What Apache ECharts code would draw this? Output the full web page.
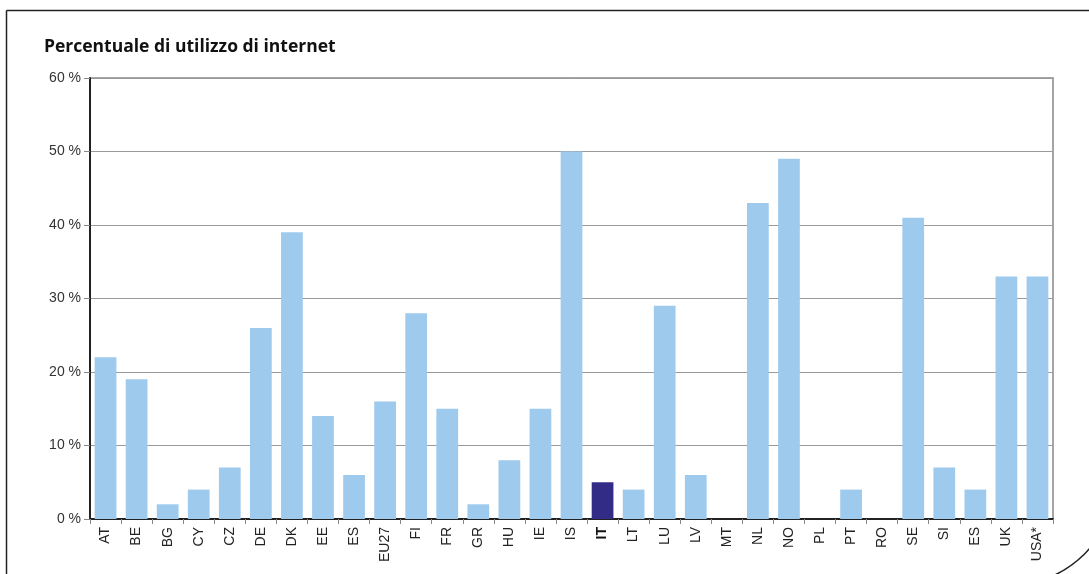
<!DOCTYPE html>
<html>
<head>
<meta charset="utf-8">
<style>
  html, body { margin: 0; padding: 0; background: #fff; }
  #chart { width: 1089px; height: 574px; }
</style>
<script src="https://cdn.jsdelivr.net/npm/echarts@6/dist/echarts.min.js"></script>
</head>
<body>
<div id="chart"></div>
<script>
// Country codes along the x axis
const countries = ['AT','BE','BG','CY','CZ','DE','DK','EE','ES','EU27','FI','FR','GR','HU','IE','IS','IT','LT','LU','LV','MT','NL','NO','PL','PT','RO','SE','SI','ES','UK','USA*'];
// Internet usage share, percent
const usage = [22,19,2,4,7,26,39,14,6,16,28,15,2,8,15,50,5,4,29,6,0,43,49,0,4,0,41,7,4,33,33];
// Highlighted country
const highlight = 'IT';
// Y axis ticks
const yTicks = [0,10,20,30,40,50,60];

const lightBlue = '#9ecaee';
const darkBlue = '#332c86';

const chart = echarts.init(document.getElementById('chart'), null, { renderer: 'canvas' });

const seriesData = usage.map((v, i) => ({
  value: v,
  itemStyle: { color: countries[i] === highlight ? darkBlue : lightBlue }
}));

chart.setOption({
  animation: false,
  backgroundColor: '#fff',
  title: {
    text: 'Percentuale di utilizzo di internet',
    left: 39,
    top: 33,
    textStyle: { fontFamily: 'Open Sans', fontWeight: 'bold', fontSize: 17.5, color: '#111' }
  },
  graphic: [{
    type: 'rect',
    silent: true,
    shape: { x: 6.5, y: 10.5, width: 1108.5, height: 574.5, r: [0, 0, 105, 0] },
    style: { fill: 'none', stroke: '#222', lineWidth: 1.5 },
    z: -1
  }],
  grid: {
    left: 90, right: 36, top: 78, bottom: 55,
    show: true, borderColor: '#888', borderWidth: 1.5, backgroundColor: 'transparent'
  },
  xAxis: {
    type: 'category',
    data: countries,
    axisLine: { lineStyle: { color: '#222', width: 2 } },
    axisTick: { show: true, length: 5, lineStyle: { color: '#888' } },
    axisLabel: {
      rotate: 90,
      margin: 8,
      interval: 0,
      fontFamily: 'Liberation Sans',
      fontSize: 14,
      color: '#222',
      formatter: (v) => v === highlight ? '{b|' + v + '}' : v,
      rich: { b: { fontWeight: 'bold', fontFamily: 'Liberation Sans', fontSize: 14, color: '#111' } }
    }
  },
  yAxis: {
    type: 'value',
    min: yTicks[0],
    max: yTicks[yTicks.length - 1],
    interval: 10,
    axisLine: { show: true, lineStyle: { color: '#222', width: 2 } },
    axisTick: { show: true, length: 6, lineStyle: { color: '#888' } },
    axisLabel: {
      margin: 9,
      fontFamily: 'Liberation Sans',
      fontSize: 14,
      color: '#333',
      formatter: (v) => v + ' %'
    },
    splitLine: { show: true, lineStyle: { color: '#9a9a9a', width: 1 } }
  },
  series: [{
    type: 'bar',
    data: seriesData,
    barCategoryGap: '30%',
    silent: true
  }]
});
</script>
</body>
</html>
